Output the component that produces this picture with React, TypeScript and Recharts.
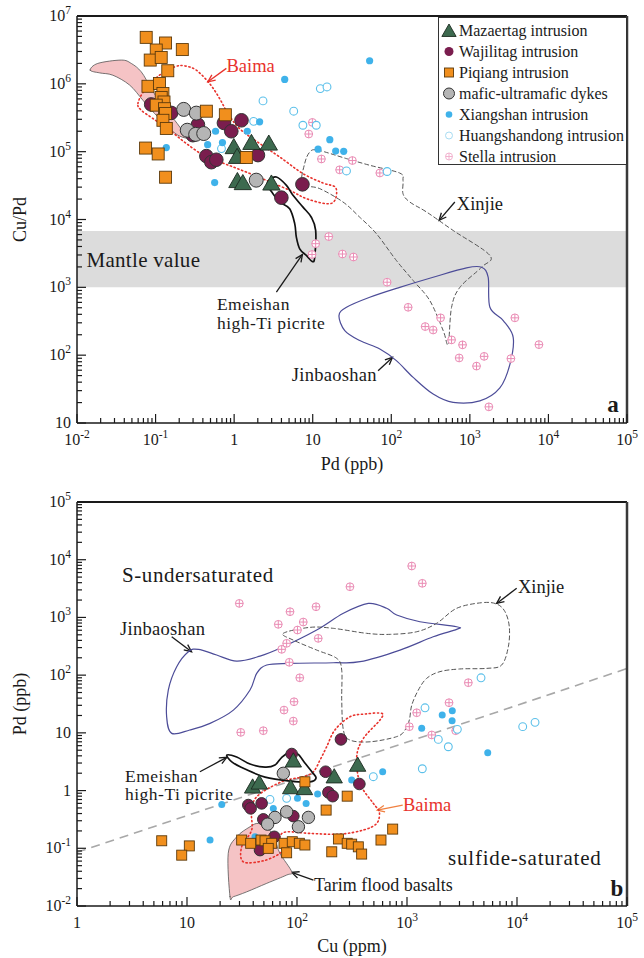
import React from 'react';
import {
  ScatterChart,
  Scatter,
  XAxis,
  YAxis,
  ReferenceArea,
  ReferenceLine,
  ReferenceDot,
  Legend,
} from 'recharts';

const FONT = '"Liberation Serif", "Times New Roman", serif';

// ---------- panel a : Cu/Pd vs Pd (ppb) ----------
const mazaertagA = [[0.99, 1.17e5], [1.66, 1.35e5], [2.76, 1.32e5], [1.09, 8.4e4], [1.1, 3.7e4], [1.29, 3.45e4], [2.98, 3.4e4]];
const wajilitagA = [[0.088, 4.97e5], [0.158, 3.73e5], [0.346, 2.5e5], [0.298, 1.75e5], [0.741, 2.65e5], [1.24, 2.9e5], [0.92, 2.0e5], [0.443, 8.6e4], [0.513, 7.0e4], [0.593, 7.6e4], [2.01, 8.9e4], [7.4, 3.3e4], [3.99, 2.1e4]];
const piqiangA = [[0.076, 4.84e6], [0.134, 4.0e6], [0.219, 3.2e6], [0.102, 3.15e6], [0.0855, 2.24e6], [0.118, 2.45e6], [0.143, 1.56e6], [0.08, 9.2e5], [0.112, 1.01e6], [0.124, 7.2e5], [0.118, 6.3e5], [0.128, 5.4e5], [0.102, 4.85e5], [0.13, 4.3e5], [0.134, 3.65e5], [0.124, 2.9e5], [0.137, 2.2e5], [0.443, 3.95e5], [0.773, 3.5e5], [0.0746, 1.13e5], [0.108, 9.25e4], [0.134, 4.2e4], [1.43, 8.2e4]];
const dykesA = [[0.228, 4.2e5], [0.33, 3.7e5], [0.253, 2.07e5], [0.324, 1.8e5], [0.41, 1.85e5], [1.91, 3.8e4]];
const xiangshanA = [[4.4, 1.16e6], [2.11, 2.75e5], [0.58, 2.0e5], [1.47, 2.0e5], [0.46, 1.27e5], [0.71, 1.36e5], [0.137, 1.15e5], [0.565, 3.5e4], [16.5, 1.5e5], [11.7, 1.09e5], [19.6, 1.02e5], [24.8, 1.01e5], [53, 2.19e6]];
const huangshandongA = [[2.33, 5.6e5], [5.73, 3.95e5], [1.77, 2.8e5], [0.69, 1.11e5], [7.5, 2.45e5], [11.1, 2.45e5], [12.5, 8.5e5], [15.2, 9.0e5], [26.9, 5.2e4], [88.5, 5.1e4]];
const stellaA = [[9.9, 2.7e5], [8.9, 1.82e5], [12.9, 7.8e4], [32, 7.4e4], [22, 5.4e4], [71.5, 4.85e4], [16, 5600], [10.9, 4400], [9.8, 3050], [23.9, 3100], [33, 2800], [88.5, 1190], [164, 508], [270, 264], [341, 235], [424, 355], [585, 168], [807, 142], [731, 91], [1520, 96], [1216, 69], [3330, 89], [3740, 355], [7570, 143], [1745, 17.3]];

// fields, panel a
const tarimFieldA = [[0.0147, 1.59e6], [0.0184, 2.0e6], [0.0366, 2.24e6], [0.049, 2.0e6], [0.0658, 1.5e6], [0.088, 8.55e5], [0.124, 4.57e5], [0.175, 2.91e5], [0.234, 1.85e5], [0.271, 1.56e5], [0.192, 1.75e5], [0.137, 2.45e5], [0.097, 3.66e5], [0.0689, 5.74e5], [0.0467, 9.6e5], [0.0286, 1.34e6], [0.0194, 1.45e6]];
const baimaFieldA = [[0.0596, 5.13e5], [0.0725, 8.07e5], [0.112, 1.34e6], [0.175, 1.78e6], [0.234, 1.84e6], [0.33, 1.59e6], [0.487, 1.01e6], [0.653, 6.08e5], [0.834, 3.66e5], [1.17, 2.19e5], [2.11, 1.32e5], [3.8, 8.35e4], [7.5, 4.75e4], [13.5, 3.45e4], [19.6, 2.95e4], [19.1, 1.91e4], [15, 1.71e4], [8.3, 2.03e4], [5.1, 2.69e4], [2.57, 3.78e4], [1.43, 5.0e4], [0.796, 6.5e4], [0.443, 8.35e4], [0.246, 1.32e5], [0.151, 2.07e5], [0.0925, 3.08e5], [0.0658, 4.08e5]];
const emeishanFieldA = [[2.77, 3.79e4], [3.45, 4.23e4], [4.63, 3.19e4], [5.61, 2.27e4], [7.52, 1.52e4], [9.6, 1.08e4], [10.9, 6900], [10.6, 2790], [9.9, 2400], [8.3, 2950], [6.83, 3700], [6.19, 5500], [5.9, 8700], [5.09, 1.44e4], [3.8, 1.81e4], [3.12, 2.4e4], [2.67, 3.2e4]];
const xinjieFieldA = [[7.4, 3.38e4], [7.9, 6.67e4], [9.2, 9.9e4], [11.7, 1.05e5], [26.9, 7.9e4], [53.2, 6.3e4], [128, 4.84e4], [141, 3.78e4], [141, 2.4e4], [172, 1.81e4], [281, 1.29e4], [612, 6900], [1800, 2950], [1410, 1980], [747, 1000], [585, 508], [530, 146], [458, 230], [309, 638], [190, 1260], [116, 2490], [64.7, 6170], [39.7, 1.08e4], [24.3, 1.81e4], [12.3, 2.85e4]];
const jinbaoshanFieldA = [[21.6, 383], [26.9, 508], [53.2, 714], [128, 1000], [341, 1410], [908, 1940], [1410, 1980], [1710, 1410], [1800, 508], [2660, 324], [3560, 183], [3240, 74], [2410, 33], [1340, 21.2], [612, 20.1], [341, 26.7], [190, 47], [116, 83], [71.5, 123], [39.7, 164], [25.6, 230]];
const mantleBand = [1000, 6750];

// ---------- panel b : Pd (ppb) vs Cu (ppm) ----------
const mazaertagB = [[92.6, 3.28], [356, 2.77], [218, 1.74], [39.5, 1.16], [45.4, 1.36], [87.6, 1.13], [117, 1.09]];
const wajilitagB = [[251, 7.7], [89.5, 4.3], [182, 2.12], [369, 1.3], [193, 0.93], [211, 0.8], [36.1, 0.561], [37.9, 0.492], [47.7, 0.6], [49.4, 0.317], [92.6, 0.361], [62.2, 0.158], [46.1, 0.093]];
const piqiangB = [[5.89, 0.135], [10.5, 0.11], [8.95, 0.076], [31.4, 0.139], [37.9, 0.122], [47.1, 0.139], [51.2, 0.135], [58.9, 0.122], [54.8, 0.0996], [76.2, 0.122], [80.5, 0.0836], [90.6, 0.13], [105, 0.122], [118, 0.114], [118, 1.42], [184, 0.459], [286, 0.8], [207, 0.0869], [238, 0.145], [286, 0.122], [314, 0.118], [361, 0.106], [387, 0.0794], [580, 0.139], [741, 0.215]];
const dykesB = [[75.1, 1.99], [80.5, 0.428], [63.1, 0.343], [54.1, 0.262], [127, 0.343], [103, 0.236]];
const xiangshanB = [[20.7, 0.575], [16.2, 0.139], [60.9, 0.491], [101, 0.733], [121, 0.6], [154, 0.869], [314, 1.52], [41.5, 0.158], [601, 2.12], [1360, 12], [2090, 20.3], [2580, 24.2], [2570, 16.2], [5420, 4.52]];
const huangshandongB = [[56.8, 0.703], [80.5, 0.733], [494, 1.74], [1378, 2.39], [1927, 7.7], [2375, 5.74], [2870, 11.5], [1458, 27.2], [11270, 12.8], [14590, 15.2], [4710, 90]];
const stellaB = [[29.9, 1750], [86.4, 1257], [149, 1530], [67.6, 759], [114, 832], [101, 605], [156, 434], [72.6, 280], [80.5, 356], [85.1, 167], [106, 90], [94, 34.6], [76.2, 24.8], [303, 3400], [92.6, 16], [30.8, 10.2], [49.4, 10.9], [1104, 7780], [1378, 3900], [3610, 74], [2410, 33.3], [1225, 22.3], [1050, 12.8], [1678, 9.2], [2770, 10.9]];

// fields, panel b
const tarimFieldB = [[24.6, 0.0145], [23.7, 0.0815], [28.3, 0.158], [37.4, 0.236], [44.5, 0.27], [54.8, 0.221], [63.1, 0.139], [70, 0.0816], [89.5, 0.0392], [80.6, 0.0344], [53.1, 0.0247], [34.9, 0.0176], [26.4, 0.0145]];
const baimaFieldB = [[31.4, 0.106], [38.7, 0.206], [38.7, 0.403], [43, 0.782], [72.6, 1.42], [114, 1.74], [141, 2.12], [162, 3.38], [186, 5.74], [221, 11.2], [303, 19], [415, 21.2], [589, 21.8], [568, 16.7], [401, 8.0], [349, 3.85], [374, 1.33], [494, 0.6], [560, 0.43], [531, 0.27], [401, 0.207], [246, 0.176], [131, 0.181], [80.6, 0.193], [70, 0.158], [72.6, 0.106], [70, 0.0816], [49.4, 0.0607], [32.5, 0.0583]];
const emeishanFieldB = [[23, 4.12], [28.3, 3.81], [37.4, 2.88], [51.2, 2.55], [63.1, 2.77], [73.1, 3.81], [86.4, 4.65], [102, 4.29], [118, 3.0], [137, 2.1], [149, 1.65], [131, 1.41], [86.4, 1.46], [51.2, 1.71], [33.7, 2.36], [25.7, 3.12]];
const xinjieFieldB = [[75, 530], [131, 673], [214, 647], [430, 530], [700, 509], [1225, 565], [1860, 791], [2830, 1440], [4780, 1800], [6530, 1710], [7780, 1256], [8510, 690], [8340, 310], [7260, 150], [5310, 131], [3030, 128], [1995, 115], [1510, 88], [1267, 55], [1104, 30], [1050, 16.7], [959, 11.2], [806, 8.6], [461, 7.0], [303, 7.5], [264, 11.2], [255, 37], [255, 122], [230, 195], [151, 272], [92.5, 405]];
const jinbaoshanFieldB = [[10.3, 255], [12.7, 280], [18.6, 223], [28.3, 175], [46.1, 214], [70, 292], [151, 605], [264, 1180], [445, 1750], [653, 1440], [806, 1100], [1310, 842], [2830, 690], [2830, 622], [1730, 463], [864, 272], [374, 171], [214, 164], [86.4, 160], [53.1, 150], [43, 107], [37.4, 55.2], [26.4, 24.8], [16.2, 14.6], [10.6, 11.2], [7.26, 9.8], [6.53, 19], [6.76, 55.2], [8.06, 140]];
const saturationLine = [[1, 0.085], [100000, 130]];

// axis decades
const pdMajorsA = [0.01, 0.1, 1, 10, 100, 1000, 10000, 100000];
const cuPdMajorsA = [10, 100, 1000, 10000, 100000, 1000000, 10000000];
const cuMajorsB = [1, 10, 100, 1000, 10000, 100000];
const pdMajorsB = [0.01, 0.1, 1, 10, 100, 1000, 10000, 100000];

const legendNames = [
  'Mazaertag intrusion',
  'Wajilitag intrusion',
  'Piqiang intrusion',
  'mafic-ultramafic dykes',
  'Xiangshan intrusion',
  'Huangshandong intrusion',
  'Stella intrusion',
];

const TRI = '#3d6a4f';
const WAJ = '#7a1d4e';
const PIQ = '#f18f1d';
const DYK = '#b5b5b5';
const XIA = '#3fb2ea';
const HSD = '#5cc0ea';
const STE = '#ea8bb4';

const toXY = (rows: number[][]) => rows.map(([x, y]) => ({ x, y }));

const withMinors = (majors: number[]) =>
  majors.flatMap((m, i) =>
    i === majors.length - 1 ? [m] : [1, 2, 3, 4, 5, 6, 7, 8, 9].map((k) => m * k)
  );

const isMajor = (v: number) => Math.abs(Math.log10(v) - Math.round(Math.log10(v))) < 1e-6;

// markers
const triangleAt = (cx: number, cy: number, s: number) => (
  <polygon
    points={`${cx},${cy - s} ${cx - s * 1.02},${cy + s * 0.78} ${cx + s * 1.02},${cy + s * 0.78}`}
    fill={TRI}
    stroke="#1c2a20"
    strokeWidth={0.9}
  />
);
const discAt = (cx: number, cy: number, r: number, fill: string, stroke = '#333') => (
  <circle cx={cx} cy={cy} r={r} fill={fill} stroke={stroke} strokeWidth={stroke === 'none' ? 0 : 1} />
);
const squareAt = (cx: number, cy: number, s: number) => (
  <rect x={cx - s / 2} y={cy - s / 2} width={s} height={s} fill={PIQ} stroke="#5c3a0c" strokeWidth={0.9} />
);
const ringAt = (cx: number, cy: number, r: number) => (
  <circle cx={cx} cy={cy} r={r} fill="#fff" stroke={HSD} strokeWidth={1.1} />
);
const crossAt = (cx: number, cy: number, r: number) => (
  <g stroke={STE} strokeWidth={1}>
    <circle cx={cx} cy={cy} r={r} fill="#fff" />
    <line x1={cx - r} x2={cx + r} y1={cy} y2={cy} />
    <line x1={cx} x2={cx} y1={cy - r} y2={cy + r} />
  </g>
);

// closed smooth outline through the field vertices
const closedPath = (pts: { x: number; y: number }[]) => {
  const n = pts.length;
  let d = `M${pts[0].x},${pts[0].y}`;
  for (let i = 0; i < n; i++) {
    const p0 = pts[(i - 1 + n) % n];
    const p1 = pts[i];
    const p2 = pts[(i + 1) % n];
    const p3 = pts[(i + 2) % n];
    const c1x = p1.x + (p2.x - p0.x) / 6;
    const c1y = p1.y + (p2.y - p0.y) / 6;
    const c2x = p2.x - (p3.x - p1.x) / 6;
    const c2y = p2.y - (p3.y - p1.y) / 6;
    d += ` C${c1x},${c1y} ${c2x},${c2y} ${p2.x},${p2.y}`;
  }
  return d + 'Z';
};

const field = (style: { fill?: string; stroke: string; width: number; dash?: string }) => (p: any) => {
  if (!p.points || p.points.length < 3) return <g />;
  return (
    <path
      d={closedPath(p.points)}
      fill={style.fill || 'none'}
      stroke={style.stroke}
      strokeWidth={style.width}
      strokeDasharray={style.dash}
      strokeLinecap="round"
    />
  );
};

const Empty = () => <g />;

function Power({ x, y, value, anchor }: any) {
  const e = Math.round(Math.log10(value));
  return (
    <text x={x} y={y} textAnchor={anchor} fontFamily={FONT} fontSize={16} fill="#1a1a1a">
      {e === 0 ? '1' : e === 1 ? '10' : (
        <>
          <tspan>10</tspan>
          <tspan dy={-7} fontSize={11.5}>{e}</tspan>
        </>
      )}
    </text>
  );
}

const BottomTick = (props: any) => {
  const { x, y, payload } = props;
  const major = isMajor(payload.value);
  return (
    <g>
      <line x1={x} x2={x} y1={y} y2={y - (major ? 9 : 5)} stroke="#1a1a1a" strokeWidth={1.2} />
      {major && <Power x={x} y={y + 22} value={payload.value} anchor="middle" />}
    </g>
  );
};

const LeftTick = (props: any) => {
  const { x, y, payload } = props;
  const major = isMajor(payload.value);
  return (
    <g>
      <line x1={x} x2={x + (major ? 9 : 5)} y1={y} y2={y} stroke="#1a1a1a" strokeWidth={1.2} />
      {major && <Power x={x - 6} y={y + 5} value={payload.value} anchor="end" />}
    </g>
  );
};

const Arrow = (color: string) => (p: any) => {
  const { x1, y1, x2, y2 } = p;
  const a = Math.atan2(y2 - y1, x2 - x1);
  const L = 8;
  const w = 0.42;
  const h1 = `${x2 - L * Math.cos(a - w)},${y2 - L * Math.sin(a - w)}`;
  const h2 = `${x2 - L * Math.cos(a + w)},${y2 - L * Math.sin(a + w)}`;
  return (
    <g stroke={color} strokeWidth={1.3} fill="none">
      <line x1={x1} y1={y1} x2={x2} y2={y2} />
      <polyline points={`${h1} ${x2},${y2} ${h2}`} />
    </g>
  );
};

const Note = (text: string, opts: { size?: number; color?: string; anchor?: string; bold?: boolean; spacing?: number } = {}) =>
  (p: any) => (
    <text
      x={p.cx}
      y={p.cy}
      textAnchor={opts.anchor || 'start'}
      dominantBaseline="central"
      fontFamily={FONT}
      fontSize={opts.size || 18.5}
      fontWeight={opts.bold ? 'bold' : 'normal'}
      letterSpacing={opts.spacing || 0}
      fill={opts.color || '#1a1a1a'}
    >
      {text}
    </text>
  );

const legendMark = (i: number) => {
  switch (i) {
    case 0: return triangleAt(10, 11, 7);
    case 1: return discAt(10, 10.5, 4.5, WAJ, 'none');
    case 2: return squareAt(10, 10.5, 9);
    case 3: return discAt(10, 10.5, 5.5, DYK, '#333');
    case 4: return discAt(10, 10.5, 3.3, XIA, 'none');
    case 5: return <circle cx={10} cy={10.5} r={3.5} fill="#fff" stroke="#a8dcf2" strokeWidth={1} />;
    default:
      return (
        <g stroke="#f2b3cf" strokeWidth={1}>
          <circle cx={10} cy={10.5} r={3.5} fill="#fff" />
          <line x1={6.5} x2={13.5} y1={10.5} y2={10.5} />
          <line x1={10} x2={10} y1={7} y2={14} />
        </g>
      );
  }
};

const LegendBox = () => (
  <div
    style={{
      width: 189,
      height: 148,
      boxSizing: 'border-box',
      border: '1px solid #333',
      background: '#fff',
      paddingTop: 2,
      fontFamily: FONT,
      fontSize: 16,
      color: '#1a1a1a',
    }}
  >
    {legendNames.map((name, i) => (
      <div key={name} style={{ display: 'flex', alignItems: 'center', height: 21, whiteSpace: 'nowrap' }}>
        <svg width={20} height={21} style={{ flex: 'none' }}>{legendMark(i)}</svg>
        <span>{name}</span>
      </div>
    ))}
  </div>
);

const axisLine = { stroke: '#1a1a1a', strokeWidth: 1.5 };

const PanelA = () => (
  <ScatterChart width={644} height={480} margin={{ top: 16, right: 17, bottom: 27, left: 17 }}>
    <XAxis
      type="number"
      dataKey="x"
      scale="log"
      domain={[0.01, 100000]}
      allowDataOverflow
      ticks={withMinors(pdMajorsA)}
      interval={0}
      tick={(p: any) => <BottomTick {...p} />}
      tickLine={false}
      tickSize={0}
      tickMargin={0}
      axisLine={axisLine}
      height={30}
      label={(p: any) => (
        <text x={p.viewBox.x + p.viewBox.width / 2} y={p.viewBox.y + 47} textAnchor="middle" fontFamily={FONT} fontSize={18} fill="#1a1a1a">
          Pd (ppb)
        </text>
      )}
    />
    <YAxis
      type="number"
      dataKey="y"
      scale="log"
      domain={[10, 10000000]}
      allowDataOverflow
      ticks={withMinors(cuPdMajorsA)}
      interval={0}
      tick={(p: any) => <LeftTick {...p} />}
      tickLine={false}
      tickSize={0}
      tickMargin={0}
      axisLine={axisLine}
      width={60}
      label={(p: any) => (
        <text
          x={20}
          y={p.viewBox.y + p.viewBox.height / 2}
          transform={`rotate(-90 20 ${p.viewBox.y + p.viewBox.height / 2})`}
          textAnchor="middle"
          dominantBaseline="central"
          fontFamily={FONT}
          fontSize={18}
          fill="#1a1a1a"
        >
          Cu/Pd
        </text>
      )}
    />
    <ReferenceArea x1={0.01} x2={100000} y1={mantleBand[0]} y2={mantleBand[1]} fill="#dcdcdc" fillOpacity={1} stroke="none" />

    <Scatter data={toXY(tarimFieldA)} shape={Empty} line={field({ fill: '#f5c3c5', stroke: '#555', width: 0.8 })} isAnimationActive={false} />
    <Scatter data={toXY(baimaFieldA)} shape={Empty} line={field({ stroke: '#e8322c', width: 1.6, dash: '1.2 2.8' })} isAnimationActive={false} />
    <Scatter data={toXY(xinjieFieldA)} shape={Empty} line={field({ stroke: '#555', width: 1, dash: '4 3' })} isAnimationActive={false} />
    <Scatter data={toXY(jinbaoshanFieldA)} shape={Empty} line={field({ stroke: '#4c4c98', width: 1.2 })} isAnimationActive={false} />
    <Scatter data={toXY(emeishanFieldA)} shape={Empty} line={field({ stroke: '#111', width: 1.7 })} isAnimationActive={false} />

    <Scatter data={toXY(stellaA)} shape={(p: any) => crossAt(p.cx, p.cy, 3.9)} isAnimationActive={false} />
    <Scatter data={toXY(huangshandongA)} shape={(p: any) => ringAt(p.cx, p.cy, 3.9)} isAnimationActive={false} />
    <Scatter data={toXY(xiangshanA)} shape={(p: any) => discAt(p.cx, p.cy, 3.6, XIA, 'none')} isAnimationActive={false} />
    <Scatter data={toXY(wajilitagA)} shape={(p: any) => discAt(p.cx, p.cy, 6.8, WAJ)} isAnimationActive={false} />
    <Scatter data={toXY(dykesA)} shape={(p: any) => discAt(p.cx, p.cy, 7, DYK)} isAnimationActive={false} />
    <Scatter data={toXY(mazaertagA)} shape={(p: any) => triangleAt(p.cx, p.cy, 8.5)} isAnimationActive={false} />
    <Scatter data={toXY(piqiangA)} shape={(p: any) => squareAt(p.cx, p.cy, 12)} isAnimationActive={false} />

    <ReferenceLine segment={[{ x: 0.796, y: 1.69e6 }, { x: 0.463, y: 1.07e6 }]} shape={Arrow('#e8322c')} />
    <ReferenceLine segment={[{ x: 644, y: 1.81e4 }, { x: 406, y: 9700 }]} shape={Arrow('#1a1a1a')} />
    <ReferenceLine segment={[{ x: 3.45, y: 847 }, { x: 7.4, y: 3050 }]} shape={Arrow('#1a1a1a')} />
    <ReferenceLine segment={[{ x: 67.9, y: 59 }, { x: 103.5, y: 92.7 }]} shape={Arrow('#1a1a1a')} />

    <ReferenceDot x={1.62} y={1.82e6} shape={Note('Baima', { color: '#e8322c', anchor: 'middle' })} />
    <ReferenceDot x={682} y={1.67e4} shape={Note('Xinjie')} />
    <ReferenceDot x={0.0132} y={2490} shape={Note('Mantle value', { size: 21, spacing: 0.3 })} />
    <ReferenceDot x={0.603} y={577} shape={Note('Emeishan', { size: 17.5, spacing: 0.5 })} />
    <ReferenceDot x={0.603} y={302} shape={Note('high-Ti picrite', { size: 17.5, spacing: 0.5 })} />
    <ReferenceDot x={5.4} y={51.5} shape={Note('Jinbaoshan', { spacing: 0.3 })} />
    <ReferenceDot x={66400} y={18.6} shape={Note('a', { size: 23, bold: true, anchor: 'middle' })} />

    <ReferenceLine y={10000000} stroke="#1a1a1a" strokeWidth={2} />
    <ReferenceLine x={100000} stroke="#3a3a3a" strokeWidth={2.5} />

    <Legend
      layout="vertical"
      align="center"
      verticalAlign="middle"
      wrapperStyle={{ left: 438, top: 17, width: 189, height: 148 }}
      content={() => <LegendBox />}
    />
  </ScatterChart>
);

const PanelB = () => (
  <ScatterChart width={644} height={478} margin={{ top: 22, right: 17, bottom: 22, left: 17 }}>
    <XAxis
      type="number"
      dataKey="x"
      scale="log"
      domain={[1, 100000]}
      allowDataOverflow
      ticks={withMinors(cuMajorsB)}
      interval={0}
      tick={(p: any) => <BottomTick {...p} />}
      tickLine={false}
      tickSize={0}
      tickMargin={0}
      axisLine={axisLine}
      height={30}
      label={(p: any) => (
        <text x={p.viewBox.x + p.viewBox.width / 2} y={p.viewBox.y + 46} textAnchor="middle" fontFamily={FONT} fontSize={18} fill="#1a1a1a">
          Cu (ppm)
        </text>
      )}
    />
    <YAxis
      type="number"
      dataKey="y"
      scale="log"
      domain={[0.01, 100000]}
      allowDataOverflow
      ticks={withMinors(pdMajorsB)}
      interval={0}
      tick={(p: any) => <LeftTick {...p} />}
      tickLine={false}
      tickSize={0}
      tickMargin={0}
      axisLine={axisLine}
      width={60}
      label={(p: any) => (
        <text
          x={20}
          y={p.viewBox.y + p.viewBox.height / 2}
          transform={`rotate(-90 20 ${p.viewBox.y + p.viewBox.height / 2})`}
          textAnchor="middle"
          dominantBaseline="central"
          fontFamily={FONT}
          fontSize={18}
          fill="#1a1a1a"
        >
          Pd (ppb)
        </text>
      )}
    />

    <ReferenceLine
      segment={[{ x: saturationLine[0][0], y: saturationLine[0][1] }, { x: saturationLine[1][0], y: saturationLine[1][1] }]}
      stroke="#a8a8a8"
      strokeWidth={1.6}
      strokeDasharray="9 6"
    />

    <Scatter data={toXY(tarimFieldB)} shape={Empty} line={field({ fill: '#f5c3c5', stroke: '#555', width: 0.8 })} isAnimationActive={false} />
    <Scatter data={toXY(jinbaoshanFieldB)} shape={Empty} line={field({ stroke: '#4c4c98', width: 1.2 })} isAnimationActive={false} />
    <Scatter data={toXY(xinjieFieldB)} shape={Empty} line={field({ stroke: '#555', width: 1, dash: '4 3' })} isAnimationActive={false} />
    <Scatter data={toXY(baimaFieldB)} shape={Empty} line={field({ stroke: '#e8322c', width: 1.6, dash: '1.2 2.8' })} isAnimationActive={false} />
    <Scatter data={toXY(emeishanFieldB)} shape={Empty} line={field({ stroke: '#111', width: 1.7 })} isAnimationActive={false} />

    <Scatter data={toXY(stellaB)} shape={(p: any) => crossAt(p.cx, p.cy, 3.9)} isAnimationActive={false} />
    <Scatter data={toXY(huangshandongB)} shape={(p: any) => ringAt(p.cx, p.cy, 3.9)} isAnimationActive={false} />
    <Scatter data={toXY(xiangshanB)} shape={(p: any) => discAt(p.cx, p.cy, 3.5, XIA, 'none')} isAnimationActive={false} />
    <Scatter data={toXY(wajilitagB)} shape={(p: any) => discAt(p.cx, p.cy, 5.8, WAJ)} isAnimationActive={false} />
    <Scatter data={toXY(dykesB)} shape={(p: any) => discAt(p.cx, p.cy, 6.2, DYK)} isAnimationActive={false} />
    <Scatter data={toXY(mazaertagB)} shape={(p: any) => triangleAt(p.cx, p.cy, 8)} isAnimationActive={false} />
    <Scatter data={toXY(piqiangB)} shape={(p: any) => squareAt(p.cx, p.cy, 10)} isAnimationActive={false} />

    <ReferenceLine segment={[{ x: 7.26, y: 463 }, { x: 11.0, y: 255 }]} shape={Arrow('#1a1a1a')} />
    <ReferenceLine segment={[{ x: 9930, y: 3190 }, { x: 6530, y: 1750 }]} shape={Arrow('#1a1a1a')} />
    <ReferenceLine segment={[{ x: 13.1, y: 2.12 }, { x: 23, y: 3.76 }]} shape={Arrow('#1a1a1a')} />
    <ReferenceLine segment={[{ x: 914, y: 0.561 }, { x: 537, y: 0.459 }]} shape={Arrow('#f08040')} />
    <ReferenceLine segment={[{ x: 141, y: 0.0281 }, { x: 89.5, y: 0.0382 }]} shape={Arrow('#1a1a1a')} />

    <ReferenceDot x={2.56} y={5430} shape={Note('S-undersaturated', { size: 21, spacing: 0.6 })} />
    <ReferenceDot x={2.46} y={630} shape={Note('Jinbaoshan', { spacing: 0.3 })} />
    <ReferenceDot x={10200} y={3370} shape={Note('Xinjie')} />
    <ReferenceDot x={2.73} y={1.8} shape={Note('Emeishan', { size: 17.5, spacing: 0.5 })} />
    <ReferenceDot x={2.73} y={0.86} shape={Note('high-Ti picrite', { size: 17.5, spacing: 0.5 })} />
    <ReferenceDot x={920} y={0.561} shape={Note('Baima', { color: '#e8322c' })} />
    <ReferenceDot x={143} y={0.023} shape={Note('Tarim flood basalts', { size: 18 })} />
    <ReferenceDot x={2360} y={0.0676} shape={Note('sulfide-saturated', { size: 21, spacing: 0.8 })} />
    <ReferenceDot x={81100} y={0.0204} shape={Note('b', { size: 23, bold: true, anchor: 'middle' })} />

    <ReferenceLine y={100000} stroke="#1a1a1a" strokeWidth={2} />
    <ReferenceLine x={100000} stroke="#3a3a3a" strokeWidth={2.5} />
  </ScatterChart>
);

export default function App() {
  return (
    <div style={{ position: 'absolute', left: 0, top: 0, width: 644, height: 958, background: '#fff' }}>
      <PanelA />
      <PanelB />
    </div>
  );
}
